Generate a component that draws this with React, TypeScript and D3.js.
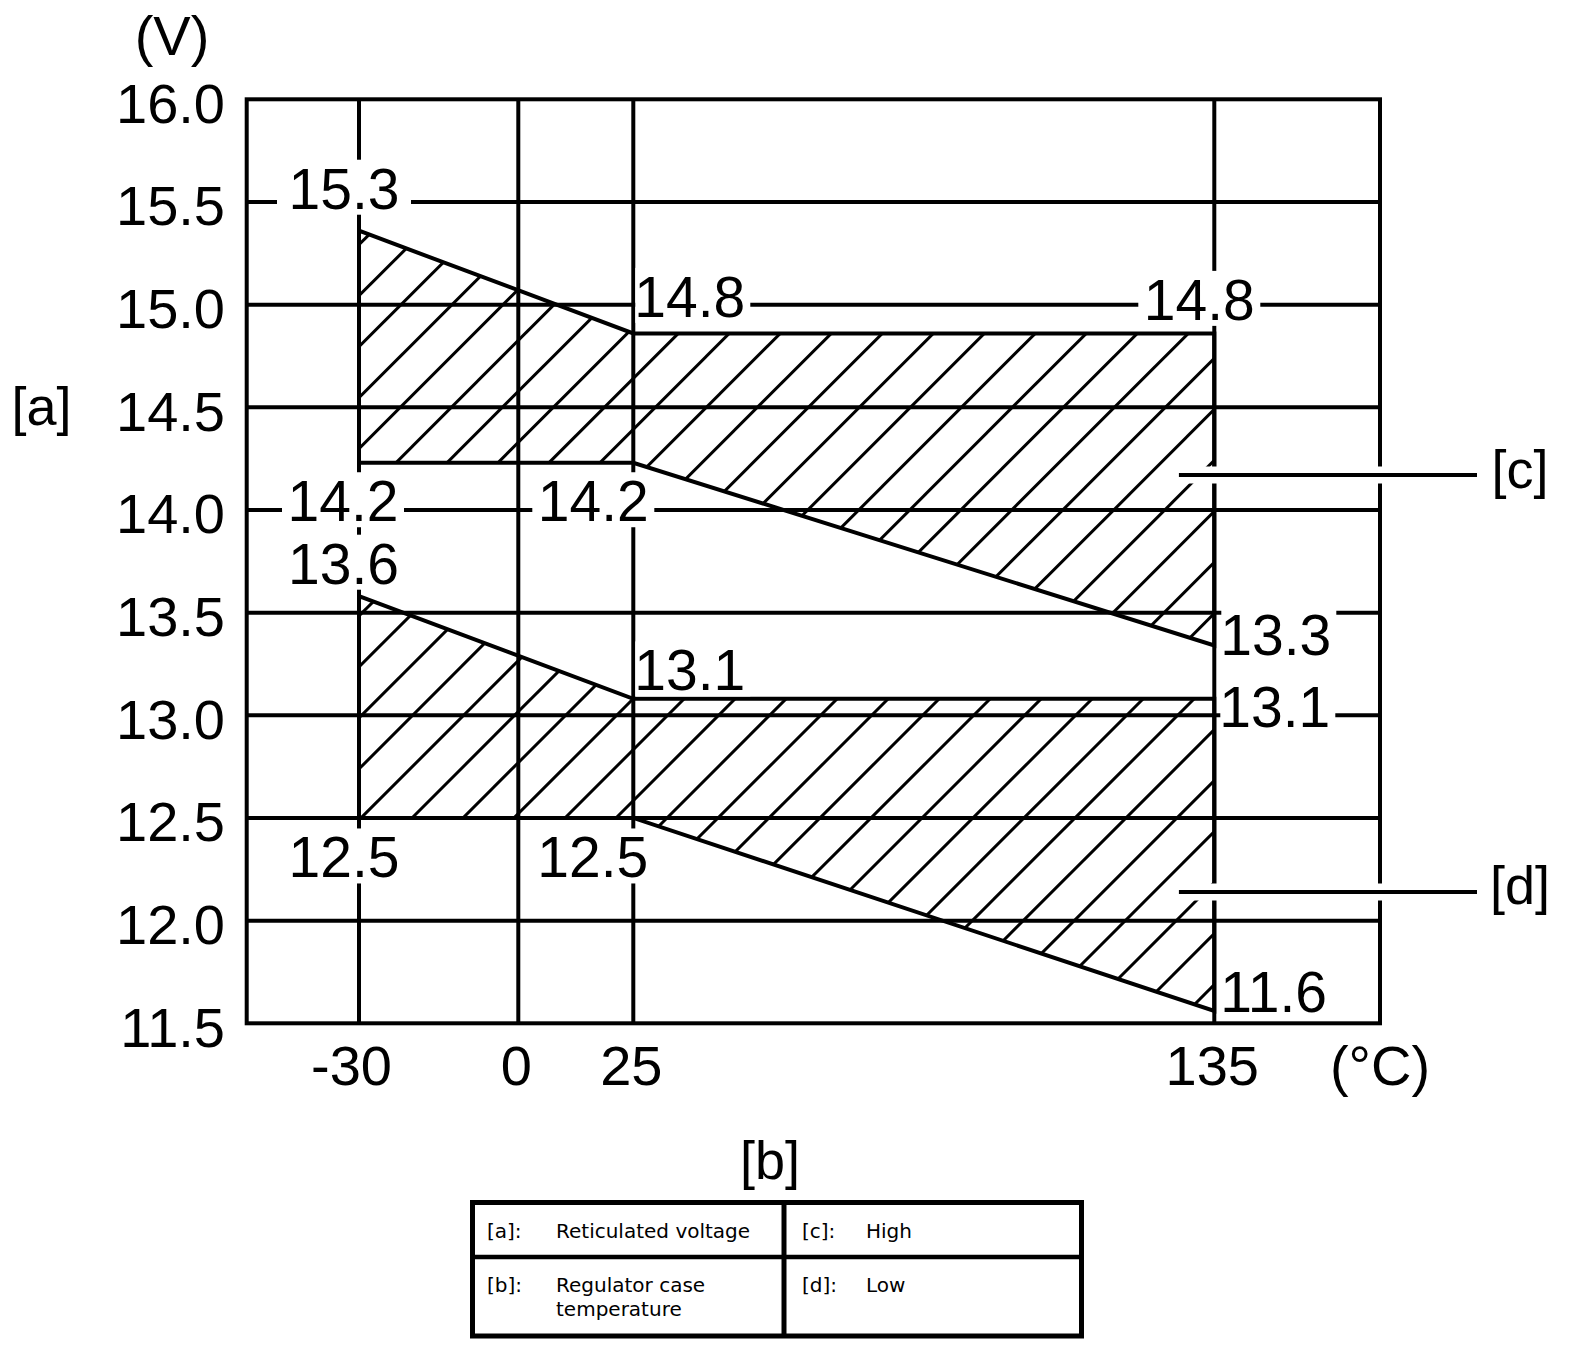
import React from "react";
import * as d3 from "d3";

// axis ticks
const tempTicks = [-30, 0, 25, 135];
const tempExtent = [-51.1, 166.4];
const voltTicks = [11.5, 12.0, 12.5, 13.0, 13.5, 14.0, 14.5, 15.0, 15.5, 16.0];

// band corners (drawn values) and their printed labels
const bandTemps = [-30, 25, 135];
const highUpper = [15.36, 14.86, 14.86];
const highLower = [14.23, 14.23, 13.34];
const lowUpper = [13.58, 13.08, 13.08];
const lowLower = [12.5, 12.5, 11.56];
const highUpperLabels = ["15.3", "14.8", "14.8"];
const highLowerLabels = ["14.2", "14.2", "13.3"];
const lowUpperLabels = ["13.6", "13.1", "13.1"];
const lowLowerLabels = ["12.5", "12.5", "11.6"];

// callouts
const calloutNames = ["[c]", "[d]"];
const calloutVolts = [14.17, 12.14];
const calloutTemp = 128.3;

// legend table
const legendKeys = [["[a]:", "[c]:"], ["[b]:", "[d]:"]];
const legendTexts = [["Reticulated voltage", "High"], ["Regulator case|temperature", "Low"]];

const W = 1584;
const H = 1364;
const FONT = "'Liberation Sans', Arial, sans-serif";

// label placement: anchor, dx, dy (from the corner to ink centre / text origin)
const placement: Record<string, [string, number, number]> = {
  "high-upper-0": ["middle", -15, -42.5],
  "high-upper-1": ["start", 1, -37],
  "high-upper-2": ["middle", -15, -34],
  "high-lower-0": ["middle", -16, 38],
  "high-lower-1": ["middle", -40, 38],
  "high-lower-2": ["start", 6, -11],
  "low-upper-0": ["middle", -15.5, -33],
  "low-upper-1": ["start", 1, -29],
  "low-upper-2": ["start", 5, 8],
  "low-lower-0": ["middle", -15, 39],
  "low-lower-1": ["middle", -40.5, 39],
  "low-lower-2": ["start", 6, -19],
};

export default function App() {
  const x = d3.scaleLinear()
    .domain([tempExtent[0], ...tempTicks, tempExtent[1]])
    .range([246.7, 359, 518.3, 633.3, 1214.3, 1380]);
  const y = d3.scaleLinear().domain([11.5, 16]).range([1023.3, 99.3]);

  const bands = [
    { id: "high", upper: highUpper, lower: highLower, up: highUpperLabels, lo: highLowerLabels, phase: 37 },
    { id: "low", upper: lowUpper, lower: lowLower, up: lowUpperLabels, lo: lowLowerLabels, phase: 2 },
  ];

  const line = d3.line<[number, number]>().x(d => x(d[0])).y(d => y(d[1]));
  const hatchSpacing = 51;

  const bandPoints = (b: typeof bands[number]): [number, number][] => [
    ...bandTemps.map((t, i) => [t, b.upper[i]] as [number, number]),
    ...bandTemps.map((t, i) => [t, b.lower[i]] as [number, number]).reverse(),
  ];

  const labels: { text: string; px: number; py: number; key: string }[] = [];
  bands.forEach(b => {
    bandTemps.forEach((t, i) => {
      labels.push({ text: b.up[i], px: x(t), py: y(b.upper[i]), key: `${b.id}-upper-${i}` });
      labels.push({ text: b.lo[i], px: x(t), py: y(b.lower[i]), key: `${b.id}-lower-${i}` });
    });
  });

  const fs = 57;

  return (
    <svg width={W} height={H} style={{ position: "absolute", left: 0, top: 0, background: "white" }}
      fontFamily={FONT}>
      <rect width={W} height={H} fill="white" />
      <defs>
        {bands.map(b => (
          <clipPath id={`clip-${b.id}`} key={b.id}>
            <path d={line(bandPoints(b)) + "Z"} />
          </clipPath>
        ))}
      </defs>

      {/* grid */}
      <g stroke="black" strokeWidth={4}>
        {voltTicks.slice(1, -1).map(v => (
          <line key={v} x1={x(tempExtent[0])} x2={x(tempExtent[1])} y1={y(v)} y2={y(v)} />
        ))}
        {tempTicks.map(t => (
          <line key={t} x1={x(t)} x2={x(t)} y1={y(16)} y2={y(11.5)} />
        ))}
      </g>

      {/* hatched bands */}
      {bands.map(b => {
        const x0 = x(bandTemps[0]);
        const x1 = x(bandTemps[bandTemps.length - 1]);
        const yTop = y(d3.max(b.upper) as number);
        const yBot = y(d3.min(b.lower) as number);
        const c0 = x0 + y(b.lower[0]) + b.phase;
        const cs: number[] = [];
        for (let c = c0 - hatchSpacing * Math.ceil((c0 - (x0 + yTop)) / hatchSpacing); c <= x1 + yBot; c += hatchSpacing) cs.push(c);
        return (
          <g key={b.id}>
            <g clipPath={`url(#clip-${b.id})`} stroke="black" strokeWidth={3}>
              {cs.map(c => (
                <line key={c} x1={c - yBot} y1={yBot} x2={c - yTop} y2={yTop} />
              ))}
            </g>
            <path d={line(bandPoints(b)) + "Z"} fill="none" stroke="black" strokeWidth={4} />
          </g>
        );
      })}

      {/* frame */}
      <rect x={x(tempExtent[0])} y={y(16)} width={x(tempExtent[1]) - x(tempExtent[0])}
        height={y(11.5) - y(16)} fill="none" stroke="black" strokeWidth={4} />

      {/* value labels with white knock-out */}
      {labels.map(l => {
        const [anchor, dx, dy] = placement[l.key];
        const baseline = l.py + dy + 20.5;
        const tx = l.px + dx;
        let bx0: number, bx1: number;
        if (anchor === "middle") {
          const pad = l.key === "high-upper-0" ? 15 : 9;
          bx0 = tx - 52 - pad;
          bx1 = tx + 52 + pad;
        } else {
          bx0 = tx + 1;
          bx1 = tx + 116;
        }
        return (
          <g key={l.key}>
            <rect x={bx0} y={baseline - 49} width={bx1 - bx0} height={55} fill="white" />
            <text x={tx} y={baseline} fontSize={fs} textAnchor={anchor}>{l.text}</text>
          </g>
        );
      })}

      {/* callouts */}
      {calloutNames.map((n, i) => {
        const cy = y(calloutVolts[i]);
        return (
          <g key={n}>
            <line x1={x(calloutTemp)} x2={1477} y1={cy} y2={cy} stroke="white" strokeWidth={17} />
            <line x1={x(calloutTemp)} x2={1477} y1={cy} y2={cy} stroke="black" strokeWidth={4} />
            <text x={1520} y={cy + 12.5} fontSize={54} textAnchor="middle">{n}</text>
          </g>
        );
      })}

      {/* y ticks */}
      {voltTicks.map(v => (
        <text key={v} x={225} y={y(v) + 23.4} fontSize={56} textAnchor="end">{d3.format(".1f")(v)}</text>
      ))}
      {/* x ticks */}
      {tempTicks.map(t => (
        <text key={t} x={x(t) - 2 - (t < 0 ? 5.5 : 0)} y={1085} fontSize={56} textAnchor="middle">{t}</text>
      ))}

      {/* units and axis names */}
      <text x={172} y={55} fontSize={56} textAnchor="middle">(V)</text>
      <text x={1380} y={1085} fontSize={56} textAnchor="middle">(°C)</text>
      <text x={41.5} y={425} fontSize={54} textAnchor="middle">[a]</text>
      <text x={770} y={1179} fontSize={54} textAnchor="middle">[b]</text>

      {/* legend table */}
      <g>
        <rect x={472.5} y={1202.5} width={609} height={133.5} fill="none" stroke="black" strokeWidth={5} />
        <line x1={784} x2={784} y1={1202.5} y2={1336} stroke="black" strokeWidth={5} />
        <line x1={472.5} x2={1081.5} y1={1257} y2={1257} stroke="black" strokeWidth={4.5} />
        {legendKeys.map((row, r) => row.map((k, c) => {
          const kx = c === 0 ? 487 : 802;
          const tx = c === 0 ? 556 : 866;
          const by = r === 0 ? 1238 : 1292;
          return (
            <g key={k} fontFamily="'DejaVu Sans', Verdana, sans-serif" fontSize={20}>
              <text x={kx} y={by}>{k}</text>
              {legendTexts[r][c].split("|").map((s, j) => (
                <text key={j} x={tx} y={by + j * 24}>{s}</text>
              ))}
            </g>
          );
        }))}
      </g>
    </svg>
  );
}
